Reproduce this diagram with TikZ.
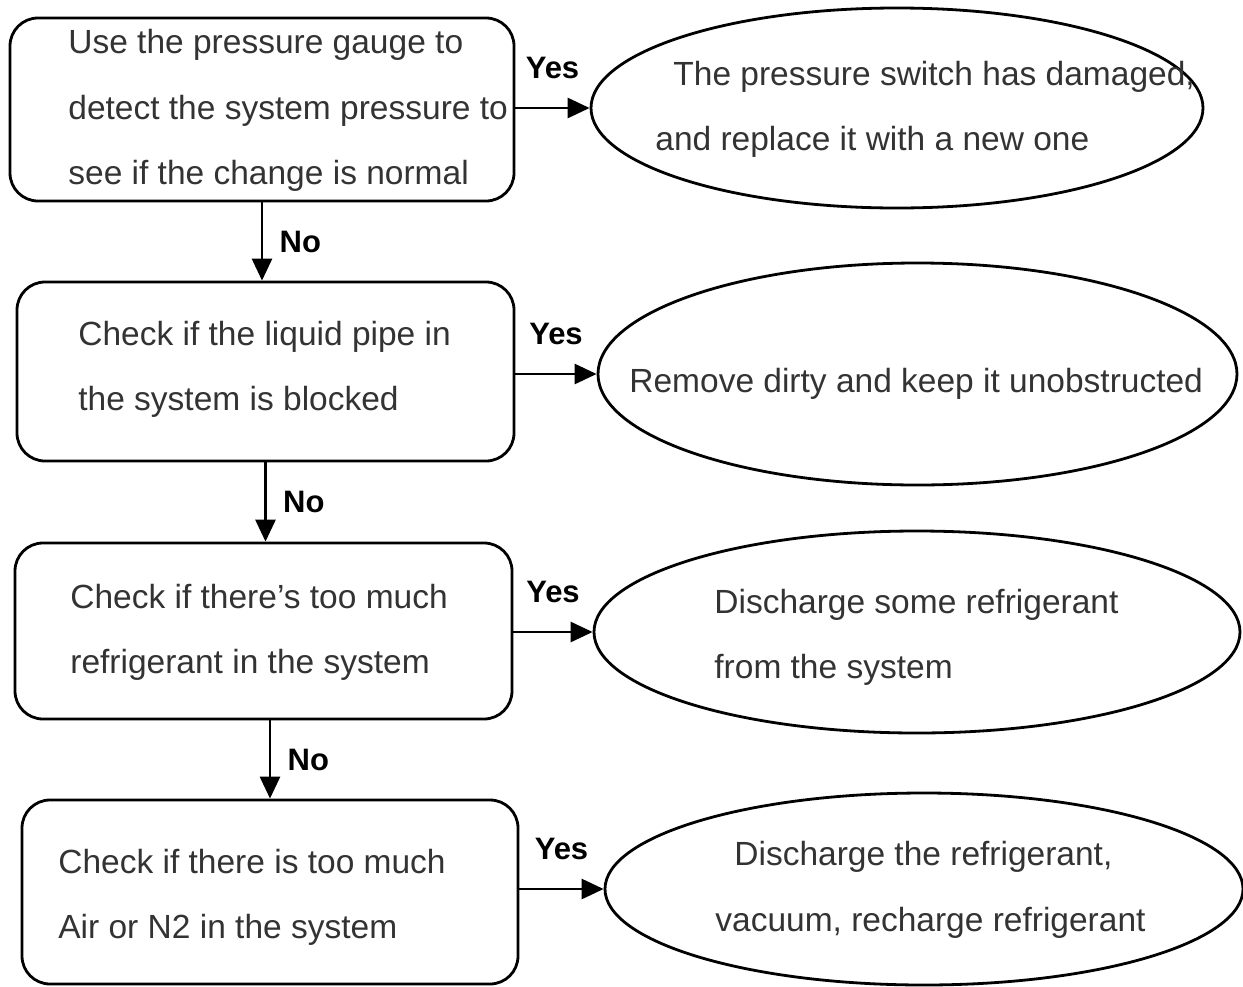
\documentclass[tikz,border=0pt]{standalone}
\usepackage{fontspec}
\setmainfont{Liberation Sans}
\usetikzlibrary{shapes.geometric, arrows.meta}
\definecolor{textgray}{HTML}{333333}

\begin{document}
\begin{tikzpicture}[x=1pt, y=-1pt, line width=2.8pt,
    check/.style = {draw, rectangle, rounded corners=28pt, inner sep=0pt},
    fix/.style = {draw, ellipse, inner sep=0pt},
    txt/.style = {anchor=west, align=left, inner sep=0pt, text=textgray, font=\fontsize{33.5}{65.5}\selectfont},
    lbl/.style = {font=\fontsize{31}{36}\selectfont\bfseries},
    go/.style = {-{Triangle[length=22pt, width=20pt]}}]
    \useasboundingbox (0,0) rectangle (1243,986);
    % checks on the left
    \node[check, minimum width=504pt, minimum height=183pt] (b1) at (262,109.5) {};
    \node[check, minimum width=497pt, minimum height=179pt] (b2) at (265.5,371.5) {};
    \node[check, minimum width=497pt, minimum height=176pt] (b3) at (263.5,631) {};
    \node[check, minimum width=496pt, minimum height=184pt] (b4) at (270,892) {};
    \node[txt] (t1) at (67,110.5) {Use the pressure gauge to\\detect the system pressure to\\see if the change is normal};
    \node[txt] (t2) at (77,369.5) {Check if the liquid pipe in\\the system is blocked};
    \node[txt] (t3) at (69,632.5) {Check if there’s too much\\refrigerant in the system};
    \node[txt] (t4) at (57,897.5) {Check if there is too much\\Air or N2 in the system};
    % fixes on the right
    \node[fix, minimum width=612pt, minimum height=200pt] (e1) at (897,108) {};
    \node[fix, minimum width=639pt, minimum height=222pt] (e2) at (917.5,374) {};
    \node[fix, minimum width=646pt, minimum height=202pt] (e3) at (917,632) {};
    \node[fix, minimum width=638pt, minimum height=192pt] (e4) at (924,889) {};
    \node[txt] (f1) at (654,109.5) {\hspace{18pt}The pressure switch has damaged,\\and replace it with a new one};
    \node[txt] (f2) at (628,384) {Remove dirty and keep it unobstructed};
    \node[txt] (f3) at (713,637.5) {Discharge some refrigerant\\from the system};
    \node[txt] (f4) at (714,890) {\hspace{19pt}Discharge the refrigerant,\\vacuum, recharge refrigerant};
    % yes arrows
    \draw[go] (b1.east |- e1.west) -- (e1.west) node[lbl, midway, above=24pt] (yes1) {Yes};
    \draw[go] (b2.east |- e2.west) -- (e2.west) node[lbl, midway, above=24pt] (yes2) {Yes};
    \draw[go] (b3.east |- e3.west) -- (e3.west) node[lbl, midway, above=24pt] (yes3) {Yes};
    \draw[go] (b4.east |- e4.west) -- (e4.west) node[lbl, midway, above=24pt] (yes4) {Yes};
    % no arrows
    \draw[go] (b1.south) -- (b1.south |- b2.north) node[lbl, midway, right=13pt] (no1) {No};
    \draw[go] (b2.south) -- (b2.south |- b3.north) node[lbl, midway, right=13pt] (no2) {No};
    \draw[go] (b4.north |- b3.south) -- (b4.north) node[lbl, midway, right=13pt] (no3) {No};
\end{tikzpicture}
\end{document}
